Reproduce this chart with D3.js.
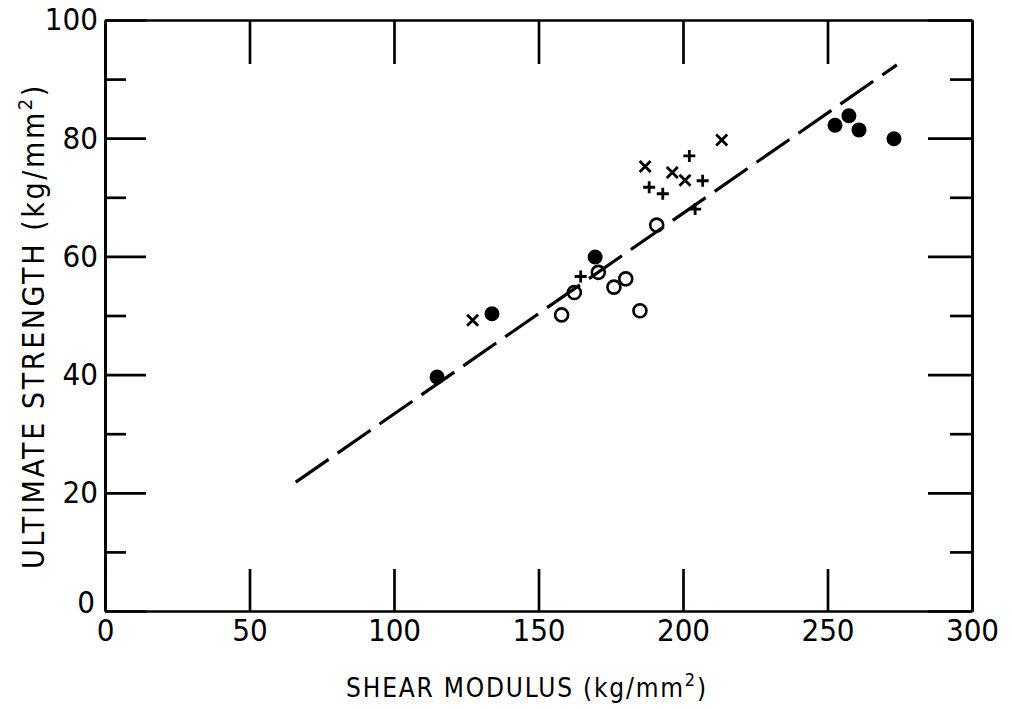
<!DOCTYPE html>
<html>
<head>
<meta charset="utf-8">
<script src="https://cdn.jsdelivr.net/npm/d3@7"></script>
<style>
  body { margin: 0; background: #fff; }
  svg { display: block; }
  .axis path, .axis line { stroke: #000; stroke-width: 2.7; }
  .axis text { font-family: "DejaVu Sans Condensed", "Liberation Sans Narrow", sans-serif; font-size: 31px; fill: #000; }
  .title { font-family: "DejaVu Sans Condensed", "Liberation Sans Narrow", sans-serif; fill: #000; }
</style>
</head>
<body>
<svg width="1012" height="709"></svg>
<script>
// data
var solidX = [114.9, 133.9, 169.6, 252.6, 257.4, 260.9, 273.0],
    solidY = [39.6, 50.3, 59.9, 82.2, 83.8, 81.4, 79.9];
var openX = [158.0, 162.4, 170.7, 176.1, 180.2, 185.1, 190.9],
    openY = [50.1, 53.9, 57.3, 54.8, 56.2, 50.8, 65.3];
var crossX = [127.2, 186.9, 196.3, 200.7, 213.4],
    crossY = [49.2, 75.2, 74.2, 72.9, 79.7];
var plusX = [164.6, 188.3, 193.0, 202.2, 206.8, 204.2],
    plusY = [56.6, 71.7, 70.6, 77.0, 72.8, 68.0];
var fitX = [66, 274],
    fitY = [21.8, 92.4];
var xTicks = [0, 50, 100, 150, 200, 250, 300],
    yTicks = [0, 20, 40, 60, 80, 100],
    yMinor = [10, 30, 50, 70, 90];

var svg = d3.select("svg");
var x = d3.scaleLinear().domain([0, 300]).range([105, 972]),
    y = d3.scaleLinear().domain([0, 100]).range([611, 20]);

function zipXY(xs, ys) { return xs.map(function(v, i) { return [v, ys[i]]; }); }

// bottom axis with labels
svg.append("g").attr("class", "axis")
    .attr("transform", "translate(0," + y(0) + ")")
    .call(d3.axisBottom(x).tickValues(xTicks).tickSize(-42).tickSizeOuter(0).tickPadding(8));

// top axis
svg.append("g").attr("class", "axis")
    .attr("transform", "translate(0," + y(100) + ")")
    .call(d3.axisTop(x).tickValues(xTicks.slice(1, -1)).tickSize(-44).tickSizeOuter(0).tickFormat(""));

// left axis
svg.append("g").attr("class", "axis")
    .attr("transform", "translate(" + x(0) + ",0)")
    .call(d3.axisLeft(y).tickValues(yTicks).tickSize(-41).tickSizeOuter(0).tickPadding(7));
svg.append("g").attr("class", "axis")
    .attr("transform", "translate(" + x(0) + ",0)")
    .call(d3.axisLeft(y).tickValues(yMinor).tickSize(-21).tickSizeOuter(0).tickFormat(""));

// right axis
svg.append("g").attr("class", "axis")
    .attr("transform", "translate(" + x(300) + ",0)")
    .call(d3.axisRight(y).tickValues(yTicks).tickSize(-44).tickSizeOuter(0).tickFormat(""));
svg.append("g").attr("class", "axis")
    .attr("transform", "translate(" + x(300) + ",0)")
    .call(d3.axisRight(y).tickValues(yMinor).tickSize(-22).tickSizeOuter(0).tickFormat(""));

// the y zero sits a little high and left, as in the original
svg.selectAll(".axis text").filter(function(d) { return d === 0; })
    .each(function() {
      var t = d3.select(this);
      if (t.attr("x") !== null && +t.attr("x") < 0) t.attr("dy", "0.05em").attr("x", -10);
    });

// axis titles
var xt = svg.append("text").attr("class", "title")
    .attr("x", 527).attr("y", 697)
    .attr("text-anchor", "middle").style("font-size", "26px").style("letter-spacing", "1.8px")
    .text("SHEAR MODULUS (kg/mm");
xt.append("tspan").attr("dy", -11).style("font-size", "18px").text("2");
xt.append("tspan").attr("dy", 11).text(")");

var yt = svg.append("text").attr("class", "title")
    .attr("transform", "translate(44,326) rotate(-90)")
    .attr("text-anchor", "middle").style("font-size", "30px").style("letter-spacing", "2.6px")
    .text("ULTIMATE STRENGTH (kg/mm");
yt.append("tspan").attr("dy", -12).style("font-size", "20px").text("2");
yt.append("tspan").attr("dy", 12).text(")");

// dashed fit line
svg.append("path")
    .datum(zipXY(fitX, fitY))
    .attr("d", d3.line().x(function(d) { return x(d[0]); }).y(function(d) { return y(d[1]); }))
    .attr("fill", "none").attr("stroke", "#000").attr("stroke-width", 3.2)
    .attr("stroke-dasharray", "40,11");

// solid dots
svg.selectAll(".solid").data(zipXY(solidX, solidY)).enter().append("circle")
    .attr("class", "solid")
    .attr("cx", function(d) { return x(d[0]); })
    .attr("cy", function(d) { return y(d[1]); })
    .attr("r", 7.5).attr("fill", "#000");

// open circles
svg.selectAll(".open").data(zipXY(openX, openY)).enter().append("circle")
    .attr("class", "open")
    .attr("cx", function(d) { return x(d[0]); })
    .attr("cy", function(d) { return y(d[1]); })
    .attr("r", 6.5).attr("fill", "none").attr("stroke", "#000").attr("stroke-width", 2.6);

// crosses
svg.selectAll(".cross").data(zipXY(crossX, crossY)).enter().append("path")
    .attr("class", "cross")
    .attr("transform", function(d) { return "translate(" + x(d[0]) + "," + y(d[1]) + ")"; })
    .attr("d", "M-5.5,-5.5L5.5,5.5M-5.5,5.5L5.5,-5.5")
    .attr("stroke", "#000").attr("stroke-width", 2.8);

// plus signs
svg.selectAll(".plus").data(zipXY(plusX, plusY)).enter().append("path")
    .attr("class", "plus")
    .attr("transform", function(d) { return "translate(" + x(d[0]) + "," + y(d[1]) + ")"; })
    .attr("d", "M-6,0L6,0M0,-6L0,6")
    .attr("stroke", "#000").attr("stroke-width", 2.8);
</script>
</body>
</html>
